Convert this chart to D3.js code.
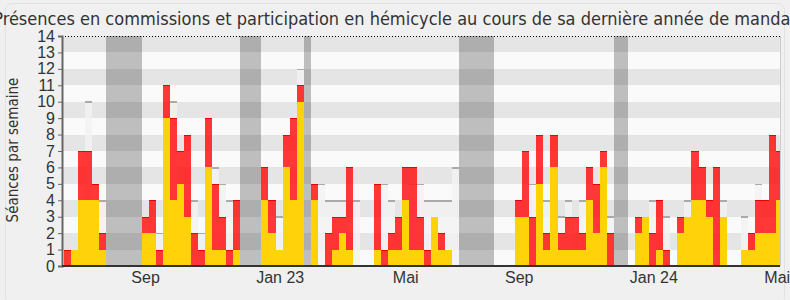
<!DOCTYPE html>
<html><head><meta charset="utf-8">
<script src="https://cdn.jsdelivr.net/npm/d3@7/dist/d3.min.js"></script>
<style>
html,body{margin:0;padding:0;background:#f0f0f0;overflow:hidden;}
svg{display:block;font-family:"DejaVu Sans Condensed","DejaVu Sans",sans-serif;font-stretch:condensed;}
</style></head><body>
<svg id="chart" width="790" height="300"></svg>
<script>
// ---- data (one value per week, week 0 = first week shown) ----
const title = "Présences en commissions et participation en hémicycle au cours de sa dernière année de mandat";
const yLabel = "Séances par semaine";
const weekCount = 102;
const commission = [0,1,4,4,4,1,0,0,0,0, 0,2,2,0,9,4,5,3,0,0, 6,1,1,0,1,0,0,0,4,2, 1,6,4,10,0,4,0,0,1,2, 1,0,0,0,1,0,1,1,4,1, 1,0,3,1,1,0,0,0,0,0, 0,0,0,0,3,3,0,5,1,6, 1,1,1,1,4,2,6,0,0,0, 0,2,3,0,1,0,0,2,3,4, 4,3,0,3,0,0,1,1,2,2, 2,4];
const hemicycle  = [1,0,3,3,1,1,0,0,0,0, 0,1,2,1,2,5,2,5,2,1, 3,4,2,1,3,0,0,0,2,2, 0,2,5,1,0,1,0,2,2,1, 5,0,0,0,4,1,1,2,2,5, 2,1,0,1,0,0,0,0,0,0, 0,0,0,0,1,4,3,3,1,2, 1,2,2,1,2,3,1,2,0,0, 0,1,0,2,3,1,0,1,0,3, 2,1,6,0,0,0,0,1,2,2, 6,3];
const median     = [0,0,0,10,0,4,0,0,0,0, 0,0,0,2,0,10,0,0,4,2, 0,6,5,4,0,0,0,0,0,0, 3,0,0,12,0,0,5,4,4,4, 0,4,0,0,0,5,4,0,0,5, 5,4,4,4,4,6,0,0,0,0, 0,0,0,0,0,0,5,0,4,0, 3,4,0,4,0,0,0,3,0,0, 0,0,0,4,0,3,0,0,4,0, 0,0,0,4,0,0,3,0,5,0, 0,0];
const vacations = [[6,11],[25,28],[34,35],[56,61],[78,80]];
const yTicks = d3.range(0, 15);
const xTickLabels = ["Sep","Jan 23","Mai","Sep","Jan 24","Mai"];
const xTickWeeks  = [11.5, 30.6, 48.4, 64.5, 83.6, 101.1];

// ---- layout ----
const W = 790, H = 300;
const plot = {left: 62, right: 780, top: 36, bottom: 266};
const svg = d3.select("#chart");
const x = d3.scaleLinear().domain([0, weekCount]).range([64, 64 + 7.05 * weekCount]);
const y = d3.scaleLinear().domain([0, 14]).range([plot.bottom, plot.top]);

svg.append("rect").attr("x", 0).attr("y", 0).attr("width", W).attr("height", H).attr("fill", "#f0f0f0");
svg.append("rect").attr("x", 5.5).attr("y", 3.5).attr("width", 779).attr("height", 300).attr("rx", 6)
  .attr("fill", "#f0f0f0").attr("stroke", "#e2e2e2");

svg.append("defs").append("clipPath").attr("id", "clip").append("rect")
  .attr("x", plot.left).attr("y", plot.top).attr("width", plot.right - plot.left).attr("height", plot.bottom - plot.top);

const g = svg.append("g").attr("clip-path", "url(#clip)").attr("shape-rendering", "crispEdges");

// stripes
g.selectAll("rect.stripe").data(d3.range(0, 14)).join("rect")
  .attr("x", plot.left).attr("width", plot.right - plot.left)
  .attr("y", d => y(d + 1)).attr("height", d => y(d) - y(d + 1))
  .attr("fill", d => d % 2 === 1 ? "#e5e5e5" : "#fafafa");

// vacations
g.selectAll("rect.vac").data(vacations).join("rect")
  .attr("x", d => x(d[0])).attr("width", d => x(d[1]) - x(d[0]))
  .attr("y", plot.top).attr("height", plot.bottom - plot.top)
  .attr("fill", "rgba(0,0,0,0.24)");

const idx = d3.range(weekCount);
const bw = i => x(i + 1) - x(i);

// median bars
const med = idx.filter(i => median[i] > 0);
g.selectAll("rect.med").data(med).join("rect")
  .attr("x", i => x(i)).attr("width", bw)
  .attr("y", i => y(median[i])).attr("height", i => y(0) - y(median[i]))
  .attr("fill", "rgba(242,242,242,0.8)");
g.selectAll("line.med").data(med).join("line")
  .attr("x1", i => x(i)).attr("x2", i => x(i + 1))
  .attr("y1", i => y(median[i]) + 0.5).attr("y2", i => y(median[i]) + 0.5)
  .attr("stroke", "#aaaaaa").attr("stroke-width", 1.5);

// commission (yellow)
g.selectAll("rect.com").data(idx.filter(i => commission[i] > 0)).join("rect")
  .attr("x", i => x(i)).attr("width", bw)
  .attr("y", i => y(commission[i])).attr("height", i => y(0) - y(commission[i]))
  .attr("fill", "#ffd20a");

// hemicycle (red) stacked
const hem = idx.filter(i => hemicycle[i] > 0);
g.selectAll("rect.hem").data(hem).join("rect")
  .attr("x", i => x(i)).attr("width", bw)
  .attr("y", i => y(commission[i] + hemicycle[i])).attr("height", i => y(commission[i]) - y(commission[i] + hemicycle[i]))
  .attr("fill", "rgba(255,20,20,0.85)");
g.selectAll("line.hem").data(hem).join("line")
  .attr("x1", i => x(i)).attr("x2", i => x(i + 1))
  .attr("y1", i => y(commission[i] + hemicycle[i]) + 0.5).attr("y2", i => y(commission[i] + hemicycle[i]) + 0.5)
  .attr("stroke", "#ee0000").attr("stroke-width", 1);

// top dotted line
svg.append("line").attr("x1", plot.left).attr("x2", plot.right).attr("y1", plot.top + 0.5).attr("y2", plot.top + 0.5)
  .attr("stroke", "#000").attr("stroke-dasharray", "1,2");
// right border
svg.append("line").attr("x1", plot.right + 0.5).attr("x2", plot.right + 0.5).attr("y1", plot.top).attr("y2", plot.bottom)
  .attr("stroke", "#cccccc");

// y axis
const yAxis = svg.append("g").attr("transform", `translate(${plot.left},0)`)
  .call(d3.axisLeft(y).tickValues(yTicks).tickSize(4).tickPadding(3).tickFormat(d3.format("d")));
yAxis.select(".domain").attr("stroke", "#666").attr("stroke-width", 2);
yAxis.selectAll(".tick line").attr("stroke", "#666");
yAxis.selectAll("text").attr("font-size", 16).attr("fill", "#333").attr("font-family", null);

// x axis
const xAxis = svg.append("g").attr("transform", `translate(0,${plot.bottom})`)
  .call(d3.axisBottom(x).tickValues(xTickWeeks).tickSize(0).tickPadding(6).tickFormat((d, i) => xTickLabels[i]));
xAxis.select(".domain").attr("d", `M${plot.left},0H${plot.right}`).attr("stroke", "#333").attr("stroke-width", 2);
xAxis.selectAll("text").attr("font-size", 16).attr("fill", "#333").attr("font-family", null);

// y label
svg.append("text").attr("transform", "translate(18,150) rotate(-90)")
  .attr("text-anchor", "middle").attr("font-size", 15).attr("fill", "#333").text(yLabel);

// title
svg.append("text").attr("x", W / 2).attr("y", 25).attr("text-anchor", "middle")
  .attr("font-size", 18).attr("fill", "#333").text(title);
</script></body></html>
